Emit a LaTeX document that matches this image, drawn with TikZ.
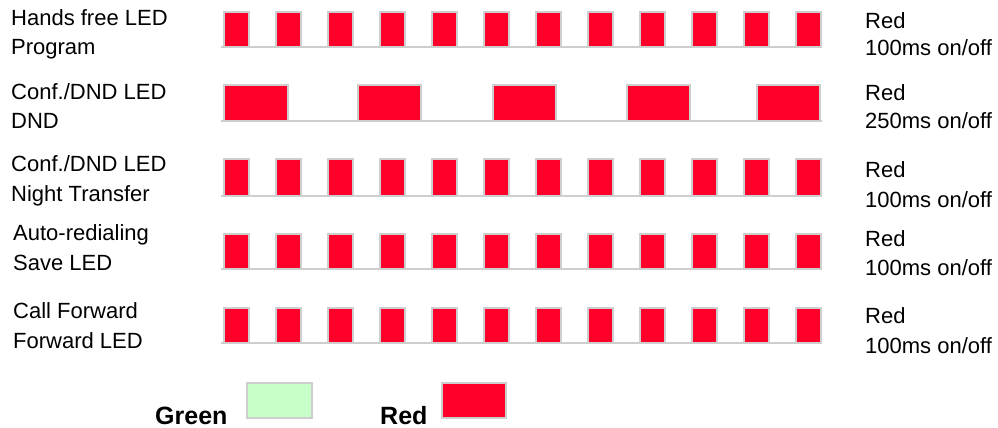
\documentclass[tikz,border=0pt]{standalone}
\usepackage{fontspec}
\setmainfont{Liberation Sans}
\definecolor{ledred}{RGB}{255,0,43}
\definecolor{ledgreen}{RGB}{200,255,200}
\definecolor{edgegray}{RGB}{206,206,206}
\begin{document}
\begin{tikzpicture}[x=1pt,y=-1pt,
  lbl/.style={anchor=base west, inner sep=0pt, font=\fontsize{22}{26}\selectfont, text=black},
  leg/.style={anchor=base west, inner sep=0pt, font=\fontsize{25}{30}\selectfont\bfseries, text=black},
  ledon/.style={fill=ledred, draw=edgegray, line width=2pt},
  ledgr/.style={fill=ledgreen, draw=edgegray, line width=2pt},
  baseln/.style={draw=edgegray, line width=2.2pt}]
\useasboundingbox (0,0) rectangle (998,428);

% baselines
\foreach \b in {47,121,196,269,343}
  \draw[baseln] (221,\b) -- (822,\b);

% 100ms rows
\foreach \t/\b in {12/47,159/196,234/269,308/343}
  \foreach \k in {0,...,11}
    \draw[ledon] ({223.5+52*\k},\t) rectangle ({248.5+52*\k},\b);

% 250ms row
\foreach \xa/\xb in {223.5/287.5,357.5/420.5,492.5/555.5,626.5/689.5,756.5/819.5}
  \draw[ledon] (\xa,85) rectangle (\xb,121);

% left labels
\node[lbl] (l1a) at (11,26) {Hands free LED};
\node[lbl] (l1b) at (11,55) {Program};
\node[lbl] (l2a) at (11,99) {Conf./DND LED};
\node[lbl] (l2b) at (11,128) {DND};
\node[lbl] (l3a) at (11,171) {Conf./DND LED};
\node[lbl] (l3b) at (11,201) {Night Transfer};
\node[lbl] (l4a) at (13,240) {Auto-redialing};
\node[lbl] (l4b) at (13,270) {Save LED};
\node[lbl] (l5a) at (13,318) {Call Forward};
\node[lbl] (l5b) at (13,348) {Forward LED};

% right labels
\node[lbl] (r1a) at (865,29) {Red};
\node[lbl] (r1b) at (865,56) {100ms on/off};
\node[lbl] (r2a) at (865,100) {Red};
\node[lbl] (r2b) at (865,128) {250ms on/off};
\node[lbl] (r3a) at (865,177) {Red};
\node[lbl] (r3b) at (865,207) {100ms on/off};
\node[lbl] (r4a) at (865,246) {Red};
\node[lbl] (r4b) at (865,275) {100ms on/off};
\node[lbl] (r5a) at (865,323) {Red};
\node[lbl] (r5b) at (865,353) {100ms on/off};

% legend
\node[leg] (lg) at (155,424) {Green};
\draw[ledgr] (246.5,382.5) rectangle (311.5,417.5);
\node[leg] (lr) at (380,424) {Red};
\draw[ledon] (441.5,382.5) rectangle (505.5,417.5);
\end{tikzpicture}
\end{document}
